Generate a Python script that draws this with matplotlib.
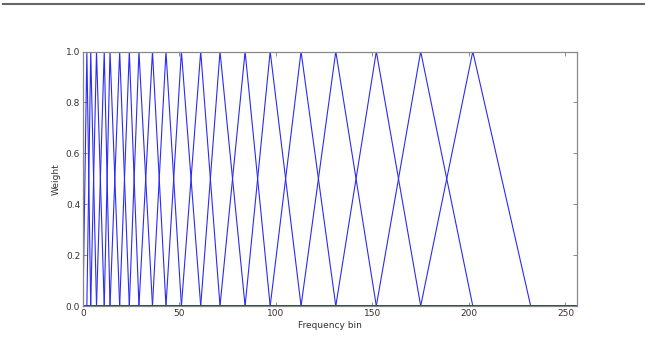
import numpy as np
import matplotlib
matplotlib.use("Agg")
import matplotlib.pyplot as plt
from matplotlib.lines import Line2D

# filter edge bins (mel spaced)
bin_points = [0, 2, 4, 7, 11, 14, 19, 24, 29, 36, 43, 51, 61, 71, 84, 97,
              113, 131, 152, 175, 202, 232]
n_bins = 257
x_label = "Frequency bin"
y_label = "Weight"
x_ticks = [0, 50, 100, 150, 200, 250]
y_ticks = [0.0, 0.2, 0.4, 0.6, 0.8, 1.0]

# triangular filterbank built from the edge bins
n_filt = len(bin_points) - 2
fbank = np.zeros((n_filt, n_bins))
for i in range(n_filt):
    lo, mid, hi = bin_points[i], bin_points[i + 1], bin_points[i + 2]
    for j in range(lo, mid):
        fbank[i, j] = (j - lo) / (mid - lo)
    for j in range(mid, hi + 1):
        fbank[i, j] = (hi - j) / (hi - mid)

fig = plt.figure(figsize=(6.48, 3.53), dpi=100, facecolor="white")
ax = fig.add_axes([83 / 648, 1 - 306 / 353, (577 - 83) / 648, (306 - 51.5) / 353])

ax.plot(np.arange(n_bins), fbank.T, color="#2b2bf5", linewidth=0.8)

ax.set_xlim(0, 256)
ax.set_ylim(0, 1)
ax.set_xticks(x_ticks)
ax.set_yticks(y_ticks)
ax.set_yticklabels(["%.1f" % v for v in y_ticks])
ax.set_xlabel(x_label, fontsize=6.5, color="#333333", labelpad=2)
ax.set_ylabel(y_label, fontsize=6.5, color="#333333", labelpad=4)
ax.tick_params(direction="in", top=True, right=True, length=3, width=0.6,
               colors="#777777", labelcolor="#333333", labelsize=6.5, pad=2)
for s in ax.spines.values():
    s.set_color("#888888")
    s.set_linewidth(0.9)

# grey rule at the top of the page
fig.add_artist(Line2D([3 / 648, 644 / 648], [1 - 3.5 / 353, 1 - 3.5 / 353],
                      transform=fig.transFigure, color="#666666", linewidth=1.5))

fig.savefig("out.png", dpi=100, facecolor="white")
